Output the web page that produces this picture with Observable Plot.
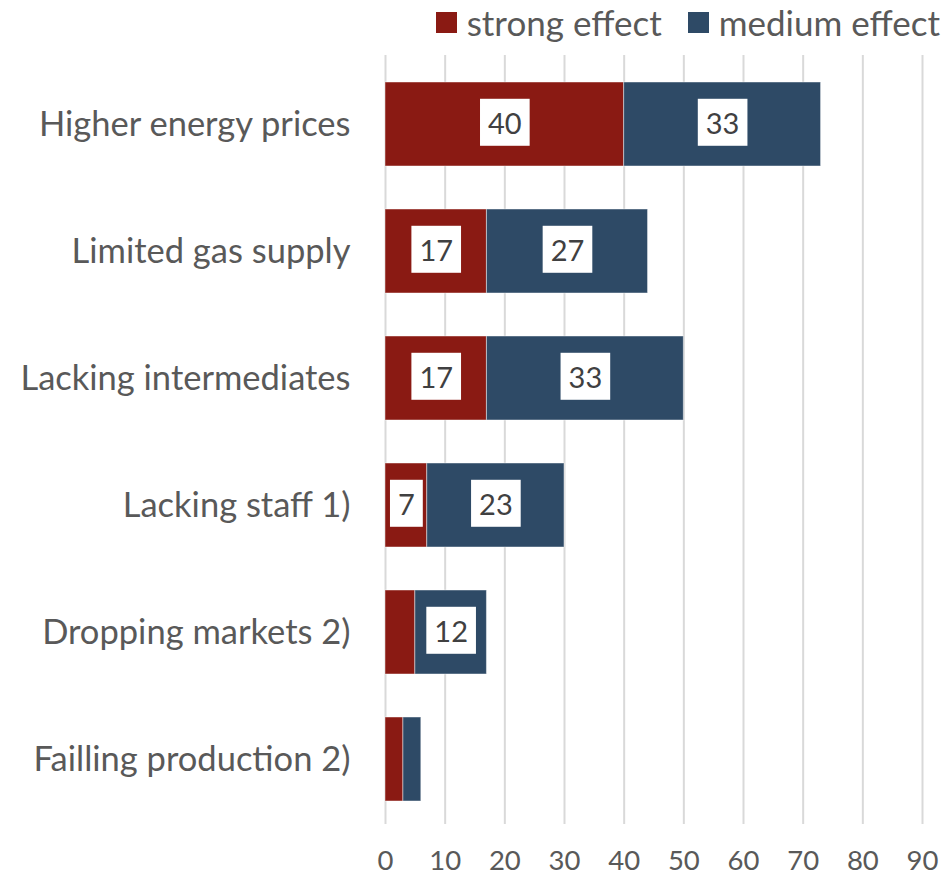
<!DOCTYPE html>
<html>
<head>
<meta charset="utf-8">
<script src="https://cdn.jsdelivr.net/npm/d3@7"></script>
<script src="https://cdn.jsdelivr.net/npm/@observablehq/plot@0.6"></script>
<style>
  html, body { margin: 0; padding: 0; background: #fff; }
  #wrap { position: relative; width: 945px; height: 876px; font-family: Lato, "Open Sans", sans-serif; }
  #legend { position: absolute; top: 1px; right: 5px; display: flex; align-items: center; font-size: 35px; color: #595959; white-space: nowrap; }
  #legend .sw { display: inline-block; width: 21px; height: 21px; margin-right: 10px; }
  #legend .item { display: flex; align-items: center; }
  #legend .item + .item { margin-left: 26px; }
</style>
</head>
<body>
<div id="wrap">
  <div id="legend"></div>
</div>
<script>
// Survey answers: share of firms reporting each effect (%)
const categories = [
  "Higher energy prices",
  "Limited gas supply",
  "Lacking intermediates",
  "Lacking staff 1)",
  "Dropping markets 2)",
  "Failling production 2)"
];
const strongEffect = [40, 17, 17, 7, 5, 3];
const mediumEffect = [33, 27, 33, 23, 12, 3];
const seriesNames = ["strong effect", "medium effect"];
const seriesColors = ["#8a1a13", "#2e4a66"];
const xTicks = [0, 10, 20, 30, 40, 50, 60, 70, 80, 90];
// values below this are left unlabelled
const minLabelled = 7;
const labelInk = "#404041";

const rows = [];
categories.forEach((c, i) => rows.push({category: c, series: seriesNames[0], value: strongEffect[i]}));
categories.forEach((c, i) => rows.push({category: c, series: seriesNames[1], value: mediumEffect[i]}));

const chart = Plot.plot({
  width: 945,
  height: 876,
  marginLeft: 385,
  marginRight: 23,
  marginTop: 60,
  marginBottom: 54,
  style: {fontFamily: "Lato, 'Open Sans', sans-serif", color: "#595959", background: "white"},
  x: {domain: [0, 90], ticks: xTicks},
  y: {domain: categories, paddingInner: 0.34, paddingOuter: 0.17, label: null},
  color: {domain: seriesNames, range: seriesColors},
  marks: [
    Plot.gridX(xTicks, {stroke: "#d9d9d9", strokeOpacity: 1, strokeWidth: 2, insetTop: -5, insetBottom: -2}),
    Plot.barX(rows, Plot.stackX({
      x: "value", y: "category", fill: "series", z: "series",
      stroke: "white", strokeOpacity: 0.45, strokeWidth: 1
    })),
    Plot.text(rows, Plot.stackX({
      x: "value", y: "category", z: "series",
      text: d => d.value >= minLabelled ? String(d.value) : null,
      fill: labelInk, fontSize: 29
    })),
    Plot.axisX({ticks: xTicks, tickSize: 0, tickPadding: 28, fontSize: 27.5, label: null, fill: "#595959"}),
    Plot.axisY({tickSize: 0, tickPadding: 35, fontSize: 34.5, label: null, fill: "#595959"})
  ]
});

const wrap = document.getElementById("wrap");
wrap.appendChild(chart);

// white boxes behind the value labels
d3.select(chart).selectAll(`g[fill="${labelInk}"] text`).each(function() {
  const b = this.getBBox();
  const padX = 8, padY = 7;
  const t = this.getAttribute("transform");
  const r = document.createElementNS("http://www.w3.org/2000/svg", "rect");
  r.setAttribute("x", b.x - padX);
  r.setAttribute("y", b.y - padY + 1);
  r.setAttribute("width", b.width + 2 * padX);
  r.setAttribute("height", b.height + 2 * padY - 2);
  r.setAttribute("fill", "white");
  if (t) r.setAttribute("transform", t);
  this.parentNode.insertBefore(r, this);
});

// legend
const legend = d3.select("#legend");
seriesNames.forEach((name, i) => {
  const item = legend.append("div").attr("class", "item");
  item.append("span").attr("class", "sw").style("background", seriesColors[i]);
  item.append("span").text(name);
});
</script>
</body>
</html>
